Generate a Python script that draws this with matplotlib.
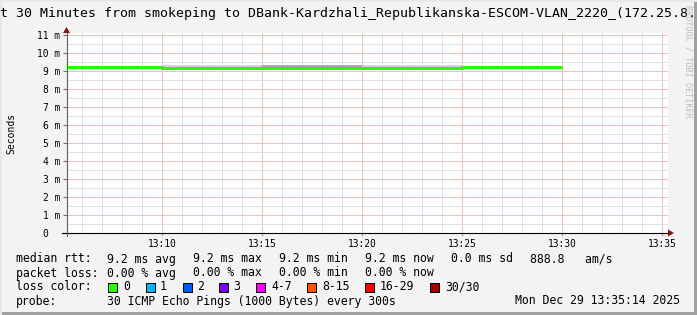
import numpy as np
import matplotlib
matplotlib.use("Agg")
import matplotlib.pyplot as plt
from matplotlib.patches import Rectangle, Polygon
from matplotlib.lines import Line2D

# data (x in minutes after 13:00)
edges = [5.233, 10, 15, 20, 25, 30]
median_rtt = [9.22, 9.17, 9.17, 9.17, 9.21]          # ms
outer_lo = [9.18, 9.13, 9.13, 9.13, 9.18]
outer_hi = [9.25, 9.33, 9.34, 9.33, 9.25]
inner_lo = [9.20, 9.15, 9.14, 9.15, 9.20]
inner_hi = [9.23, 9.22, 9.31, 9.24, 9.23]

xtick_pos = [10, 15, 20, 25, 30, 35]
xtick_labels = ["13:10", "13:15", "13:20", "13:25", "13:30", "13:35"]
ytick_pos = list(range(0, 12))
ytick_labels = ["0  "] + ["%d m" % v for v in range(1, 12)]

loss_labels = ["0", "1", "2", "3", "4-7", "8-15", "16-29", "30/30"]
loss_colors = ["#26ff00", "#00b8ff", "#0059ff", "#7e00ff", "#ff00ff", "#ff5500", "#ff0000", "#a00000"]

title = "Last 30 Minutes from smokeping to DBank-Kardzhali_Republikanska-ESCOM-VLAN_2220_(172.25.8.11)"

W, H = 697, 315
MONO = "DejaVu Sans Mono"
BG = "#f3f3f3"

fig = plt.figure(figsize=(W / 100, H / 100), dpi=100, facecolor=BG)

def fx(x):
    return x / W

def fy(y):
    return 1 - y / H

def ftext(x, y, s, size=8.3, **kw):
    kw.setdefault("va", "center")
    kw.setdefault("family", MONO)
    fig.text(fx(x), fy(y), s, fontsize=size, **kw)

# plot area
ax = fig.add_axes([fx(66.5), fy(233), 601.5 / W, 200 / H])
ax.set_facecolor("white")
ax.set_xlim(5.233, 5.233 + 601.5 / 20)
ax.set_ylim(0, 11.11)
for s in ax.spines.values():
    s.set_visible(False)

ax.set_xticks(xtick_pos)
ax.set_xticklabels(xtick_labels, family=MONO, fontsize=6.9)
ax.set_xticks(np.arange(6, 36, 1), minor=True)
ax.set_yticks(ytick_pos)
ax.set_yticklabels(ytick_labels, family=MONO, fontsize=6.9)
ax.set_yticks(np.arange(0.5, 11.1, 1), minor=True)
ax.tick_params(axis="x", which="major", length=2, pad=2, color="#d09090")
ax.tick_params(axis="y", which="major", length=3, pad=1.5, color="#707070")
ax.tick_params(which="minor", length=0)

# dotted rrdtool grid, drawn as faint lines
ax.grid(which="minor", color="#e0e0e0", linewidth=0.72)
ax.grid(which="major", color="#efc2c2", linewidth=0.72)
ax.set_axisbelow(True)

# smoke + median
ax.stairs(outer_hi, edges, baseline=outer_lo, fill=True, color="#d4d4d4", zorder=3)
ax.stairs(inner_hi, edges, baseline=inner_lo, fill=True, color="#a8a8a8", zorder=3)
ax.stairs(median_rtt, edges, color=loss_colors[0], linewidth=2.16, zorder=4, baseline=None)

# axes lines with arrows
fig.add_artist(Line2D([fx(62), fx(668)], [fy(233), fy(233)], color="black", lw=0.8))
fig.add_artist(Polygon([[fx(668), fy(229.5)], [fx(674), fy(233)], [fx(668), fy(236.5)]],
                       closed=True, color="#8b1010", lw=0))
fig.add_artist(Line2D([fx(66.5), fx(66.5)], [fy(236), fy(33)], color="#606060", lw=0.8))
fig.add_artist(Polygon([[fx(63), fy(33)], [fx(66.5), fy(27)], [fx(70), fy(33)]],
                       closed=True, color="#8b1010", lw=0))

# title, y label and watermark
ftext(348.5, 14, title, size=9.5, ha="center")
ftext(11, 133, "Seconds", size=7, ha="center", rotation=90)
ftext(688, 61, "RRDTOOL / TOBI OETIKER", size=6.1, ha="center", rotation=270, color="#bdbdbd")

# legend
ftext(16, 259, "median rtt:")
for x, s in zip([107, 193, 279, 365, 451, 530],
                ["9.2 ms avg", "9.2 ms max", "9.2 ms min", "9.2 ms now", "0.0 ms sd", "888.8   am/s"]):
    ftext(x, 259, s)
ftext(16, 273, "packet loss:")
for x, s in zip([107, 193, 279, 365], ["0.00 % avg", "0.00 % max", "0.00 % min", "0.00 % now"]):
    ftext(x, 273, s)
ftext(16, 287, "loss color:")
sw_x = [108, 146, 183, 219, 256, 307, 365, 430]
lb_x = [123, 160, 197, 233, 271, 322, 380, 445]
for sx, lx, lab, col in zip(sw_x, lb_x, loss_labels, loss_colors):
    fig.add_artist(Rectangle((fx(sx), fy(291.5)), 8.5 / W, 8.5 / H, facecolor=col,
                             edgecolor="black", lw=0.7))
    ftext(lx, 287, lab)
ftext(16, 301, "probe:")
ftext(107, 301, "30 ICMP Echo Pings (1000 Bytes) every 300s")
ftext(680, 301, "Mon Dec 29 13:35:14 2025", ha="right")

# frame
fig.add_artist(Rectangle((fx(694), 0), 3 / W, 1, facecolor="#a0a0a0", lw=0))
fig.add_artist(Rectangle((0, 0), 1, 3 / H, facecolor="#a0a0a0", lw=0))
fig.add_artist(Rectangle((0, 0), 2 / W, 1, facecolor="#e8e8e8", lw=0))
fig.add_artist(Rectangle((0, fy(2)), 1, 2 / H, facecolor="#e8e8e8", lw=0))

fig.savefig("out.png", dpi=100, facecolor=BG)
